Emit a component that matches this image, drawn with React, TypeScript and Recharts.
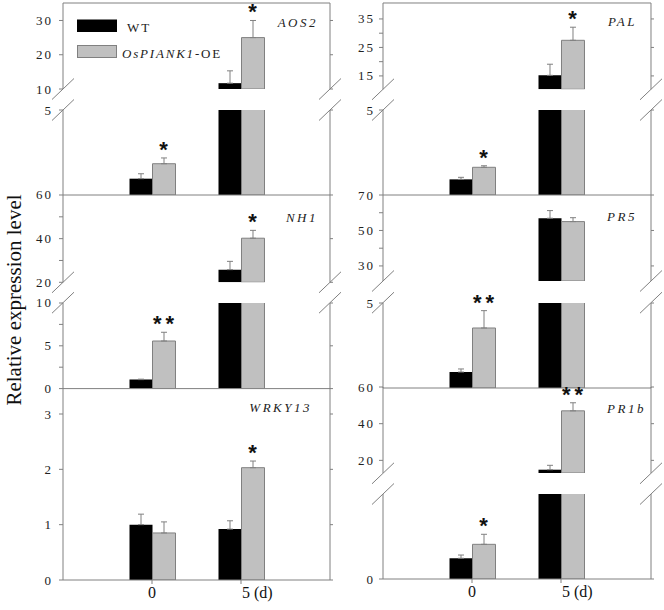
import React from 'react';
import { ComposedChart, Bar, XAxis, YAxis, ErrorBar, Scatter } from 'recharts';

// ---------- data ----------
const days = ['0', '5 (d)'];
const seriesNames = ['WT', 'OsPIANK1-OE'];

const aos2Wt = [0.96, 11.7];
const aos2WtErr = [0.29, 3.6];
const aos2Oe = [1.84, 25];
const aos2OeErr = [0.34, 5.0];
const aos2Sig = ['*', '*'];

const palWt = [0.92, 15.2];
const palWtErr = [0.12, 3.9];
const palOe = [1.63, 27.5];
const palOeErr = [0.09, 4.6];
const palSig = ['*', '*'];

const nh1Wt = [1.05, 25.8];
const nh1WtErr = [0.05, 3.8];
const nh1Oe = [5.56, 40.2];
const nh1OeErr = [1.02, 3.6];
const nh1Sig = ['**', '*'];

const pr5Wt = [0.94, 56.9];
const pr5WtErr = [0.18, 4.3];
const pr5Oe = [3.53, 55];
const pr5OeErr = [1.02, 2.2];
const pr5Sig = ['**', ''];

const wrky13Wt = [1.0, 0.92];
const wrky13WtErr = [0.19, 0.15];
const wrky13Oe = [0.85, 2.03];
const wrky13OeErr = [0.2, 0.12];
const wrky13Sig = ['', '*'];

const pr1bWt = [1.22, 14.9];
const pr1bWtErr = [0.19, 2.4];
const pr1bOe = [2.04, 47];
const pr1bOeErr = [0.59, 4.4];
const pr1bSig = ['*', '**'];

// ---------- layout ----------
const FONT = '"Liberation Serif", "Times New Roman", serif';
const STAR_FONT = '"Liberation Sans", Arial, sans-serif';
const GRAY = '#808080';

type Seg = { top: number; bottom: number; domain: [number, number]; ticks: number[]; labels: number[] };
type Panel = {
  name: string;
  col: number;
  wt: number[];
  wtErr: number[];
  oe: number[];
  oeErr: number[];
  sig: string[];
  segs: Seg[];
  topBorder: boolean;
  xLabels: boolean;
  labelX: number;
  labelY: number;
};

const COLS = [
  { left: 0, width: 340, yW: 63, rW: 10, padL: 44.5, padR: 44.5, tm: 6 },
  { left: 340, width: 324, yW: 43, rW: 13, padL: 44.5, padR: 45.5, tm: 4 },
];

const panels: Panel[] = [
  {
    name: 'AOS2', col: 0, wt: aos2Wt, wtErr: aos2WtErr, oe: aos2Oe, oeErr: aos2OeErr, sig: aos2Sig,
    segs: [
      { top: 3, bottom: 89, domain: [10, 35.1], ticks: [10, 20, 30], labels: [10, 20, 30] },
      { top: 110, bottom: 195, domain: [0, 5], ticks: [5], labels: [5] },
    ],
    topBorder: true, xLabels: false, labelX: 318, labelY: 27,
  },
  {
    name: 'PAL', col: 1, wt: palWt, wtErr: palWtErr, oe: palOe, oeErr: palOeErr, sig: palSig,
    segs: [
      { top: 3, bottom: 89.3, domain: [10.3, 40.6], ticks: [15, 20, 25, 30, 35], labels: [15, 25, 35] },
      { top: 110, bottom: 195, domain: [0, 5], ticks: [5], labels: [5] },
    ],
    topBorder: true, xLabels: false, labelX: 637, labelY: 26,
  },
  {
    name: 'NH1', col: 0, wt: nh1Wt, wtErr: nh1WtErr, oe: nh1Oe, oeErr: nh1OeErr, sig: nh1Sig,
    segs: [
      { top: 195, bottom: 282.3, domain: [20, 60], ticks: [20, 30, 40, 50, 60], labels: [20, 40, 60] },
      { top: 302.7, bottom: 388.3, domain: [0, 10], ticks: [0, 2.5, 5, 7.5, 10], labels: [0, 5, 10] },
    ],
    topBorder: false, xLabels: false, labelX: 318, labelY: 222,
  },
  {
    name: 'PR5', col: 1, wt: pr5Wt, wtErr: pr5WtErr, oe: pr5Oe, oeErr: pr5OeErr, sig: pr5Sig,
    segs: [
      { top: 195, bottom: 281, domain: [21.5, 70], ticks: [30, 40, 50, 60, 70], labels: [30, 50, 70] },
      { top: 302.7, bottom: 387.7, domain: [0, 5], ticks: [5], labels: [5] },
    ],
    topBorder: false, xLabels: false, labelX: 637, labelY: 221,
  },
  {
    name: 'WRKY13', col: 0, wt: wrky13Wt, wtErr: wrky13WtErr, oe: wrky13Oe, oeErr: wrky13OeErr, sig: wrky13Sig,
    segs: [{ top: 388, bottom: 580, domain: [0, 3.47], ticks: [0, 1, 2, 3], labels: [0, 1, 2, 3] }],
    topBorder: false, xLabels: true, labelX: 312, labelY: 412,
  },
  {
    name: 'PR1b', col: 1, wt: pr1bWt, wtErr: pr1bWtErr, oe: pr1bOe, oeErr: pr1bOeErr, sig: pr1bSig,
    segs: [
      { top: 387.3, bottom: 473.3, domain: [13.1, 60], ticks: [20, 40, 60], labels: [20, 40, 60] },
      { top: 494, bottom: 579, domain: [0, 5], ticks: [0], labels: [0] },
    ],
    topBorder: false, xLabels: true, labelX: 646, labelY: 413,
  },
];

// ---------- tick renderers ----------
const makeYTick = (labels: number[]) => (props: any) => {
  const { x, y, payload } = props;
  if (!labels.includes(payload.value)) return <g />;
  return (
    <text x={x} y={y} dy={4.5} textAnchor="end" fontSize={13} letterSpacing={2} fontFamily={FONT} fill="#222">
      {payload.value}
    </text>
  );
};

const emptyTick = () => <g />;

const XTick = (props: any) => {
  const { x, y, payload } = props;
  const v = String(payload.value);
  const centered = !v.includes('(');
  return (
    <text x={centered ? x : x + 1} y={y} dy={12} textAnchor={centered ? 'middle' : 'start'} fontSize={16} fontFamily={FONT} fill="#111">
      {v}
    </text>
  );
};

const StarShape = (props: any) => {
  const { cx, cy, payload } = props;
  if (!payload || payload.star == null || !Number.isFinite(cy) || !Number.isFinite(cx)) return <g />;
  const ls = payload.sig.length > 1 ? 4 : 0;
  return (
    <text x={cx + 11.5 + ls / 2} y={cy - 1} textAnchor="middle" fontSize={22} fontWeight="bold" letterSpacing={ls} fontFamily={STAR_FONT} fill="#111">
      {payload.sig}
    </text>
  );
};

// ---------- segment chart ----------
function SegmentChart({ p, seg, si }: { p: Panel; seg: Seg; si: number }) {
  const c = COLS[p.col];
  const isLast = si === p.segs.length - 1;
  const ht = 12;
  const hb = p.xLabels && isLast ? 30 : 12;
  const H = seg.bottom - seg.top + ht + hb;
  // a bar below this segment's floor is not part of the segment (it lives in the lower one)
  const keep = (v: number) => v >= seg.domain[0];
  const data = days.map((d, i) => {
    const s = p.oe[i] + p.oeErr[i];
    const inSeg = p.sig[i] !== '' && s >= seg.domain[0] && s <= seg.domain[1];
    return {
      day: d,
      wt: keep(p.wt[i]) ? p.wt[i] : null,
      wtErr: keep(p.wt[i]) ? [0, p.wtErr[i]] : null,
      oe: keep(p.oe[i]) ? p.oe[i] : null,
      oeErr: keep(p.oe[i]) ? [0, p.oeErr[i]] : null,
      star: inSeg ? s : null,
      sig: p.sig[i],
    };
  });
  return (
    <div style={{ position: 'absolute', left: c.left, top: seg.top - ht, width: c.width, height: H }}>
      <ComposedChart width={c.width} height={H} data={data} margin={{ top: 0, right: 0, bottom: 0, left: 0 }} barGap={0} barSize={23}>
        <XAxis
          xAxisId="t"
          orientation="top"
          dataKey="day"
          height={ht}
          padding={{ left: c.padL, right: c.padR }}
          axisLine={p.topBorder && si === 0}
          stroke={GRAY}
          tick={false}
          tickLine={false}
        />
        <XAxis
          dataKey="day"
          height={hb}
          padding={{ left: c.padL, right: c.padR }}
          axisLine={isLast}
          tickLine={isLast}
          stroke={GRAY}
          tickSize={p.xLabels ? 4 : 3}
          tick={p.xLabels && isLast ? XTick : false}
          interval={0}
        />
        <YAxis
          type="number"
          width={c.yW}
          domain={seg.domain}
          allowDataOverflow
          ticks={seg.ticks}
          interval={0}
          stroke={GRAY}
          tickSize={4}
          tickMargin={c.tm}
          tick={makeYTick(seg.labels)}
        />
        <YAxis
          yAxisId="r"
          type="number"
          orientation="right"
          width={c.rW}
          domain={seg.domain}
          allowDataOverflow
          ticks={seg.labels}
          interval={0}
          stroke={GRAY}
          tickSize={3}
          tick={emptyTick}
        />
        <YAxis yAxisId="s" type="number" dataKey="star" hide domain={seg.domain} />
        <Bar dataKey="wt" fill="#000000" isAnimationActive={false}>
          <ErrorBar dataKey="wtErr" width={3} stroke={GRAY} strokeWidth={1} direction="y" />
        </Bar>
        <Bar dataKey="oe" fill="#c0c0c0" stroke={GRAY} strokeWidth={1} isAnimationActive={false}>
          <ErrorBar dataKey="oeErr" width={3} stroke={GRAY} strokeWidth={1} direction="y" />
        </Bar>
        <Scatter yAxisId="s" dataKey="star" shape={StarShape} isAnimationActive={false} />
      </ComposedChart>
    </div>
  );
}

// ---------- overlay ----------
function Overlay() {
  const axisXs = [
    [COLS[0].left + COLS[0].yW, COLS[0].left + COLS[0].width - COLS[0].rW],
    [COLS[1].left + COLS[1].yW, COLS[1].left + COLS[1].width - COLS[1].rW],
  ];
  const breaks: { x: number; y: number }[] = [];
  panels.forEach((p) => {
    if (p.segs.length === 2) {
      axisXs[p.col].forEach((x) => {
        breaks.push({ x, y: p.segs[0].bottom });
        breaks.push({ x, y: p.segs[1].top });
      });
    }
  });
  const parts = seriesNames[1].split('-');
  const oeItalic = parts[0];
  const oeRest = '-' + parts.slice(1).join('-');
  return (
    <svg width={664} height={610} style={{ position: 'absolute', left: 0, top: 0, pointerEvents: 'none' }}>
      <text
        x={14}
        y={300}
        transform="rotate(-90 14 300)"
        textAnchor="middle"
        dominantBaseline="central"
        fontSize={21}
        fontFamily={FONT}
        fill="#111"
      >
        Relative expression level
      </text>
      {panels.map((p) => (
        <text key={p.name} x={p.labelX} y={p.labelY} textAnchor="end" fontSize={13} fontStyle="italic" letterSpacing={2.5} fontFamily={FONT} fill="#222">
          {p.name}
        </text>
      ))}
      {breaks.map((b, i) => (
        <line key={i} x1={b.x - 11} y1={b.y + 10.5} x2={b.x + 11} y2={b.y - 10.5} stroke={GRAY} strokeWidth={1} />
      ))}
      <rect x={77} y={19.5} width={40} height={12.5} fill="#000" />
      <text x={127} y={32} fontSize={13} letterSpacing={2} fontFamily={FONT} fill="#222">
        {seriesNames[0]}
      </text>
      <rect x={77.5} y={45.5} width={39} height={12} fill="#c0c0c0" stroke={GRAY} />
      <text x={122} y={58} fontSize={13} letterSpacing={1.8} fontFamily={FONT} fill="#222">
        <tspan fontStyle="italic">{oeItalic}</tspan>
        {oeRest}
      </text>
    </svg>
  );
}

export default function App() {
  return (
    <div style={{ position: 'absolute', left: 0, top: 0, width: 664, height: 610, background: '#fff' }}>
      {panels.map((p) => p.segs.map((seg, si) => <SegmentChart key={p.name + si} p={p} seg={seg} si={si} />))}
      <Overlay />
    </div>
  );
}
